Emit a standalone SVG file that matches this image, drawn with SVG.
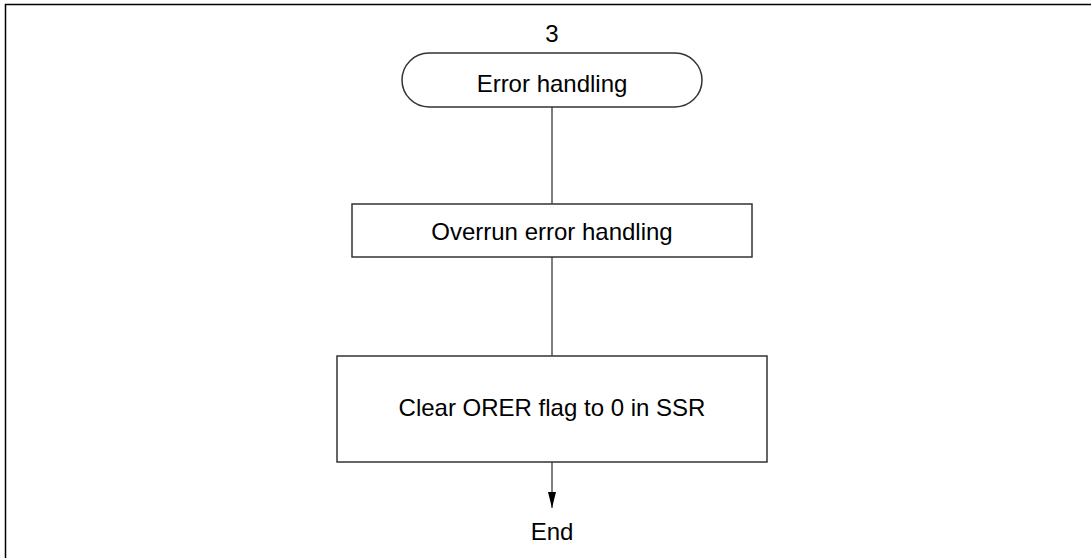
<svg xmlns="http://www.w3.org/2000/svg" width="1091" height="558" viewBox="0 0 1091 558">
<defs>
<style>
.t{font-family:"Liberation Sans",Arial,sans-serif;font-size:24px;fill:#000;text-anchor:middle}
.box{fill:#fff;stroke:#333;stroke-width:1.5}
.ln{stroke:#555;stroke-width:1.5;fill:none}
</style>
<marker id="ah" viewBox="0 0 16 8" refX="16" refY="4" markerWidth="16" markerHeight="8" markerUnits="userSpaceOnUse" orient="auto">
<path d="M0,0 L16,4 L0,8 z" fill="#000"/>
</marker>
</defs>
<rect width="1091" height="558" fill="#fff"/>
<rect x="5.5" y="4.5" width="1100" height="570" fill="none" stroke="#000" stroke-width="1.5"/>
<g id="connectors">
<line class="ln" x1="552" y1="107" x2="552" y2="204"/>
<line class="ln" x1="552" y1="257" x2="552" y2="356"/>
<line class="ln" x1="552" y1="462" x2="552" y2="508" marker-end="url(#ah)"/>
</g>
<g id="label3"><text class="t" x="552" y="42">3</text></g>
<g id="start">
<rect class="box" x="402" y="53" width="300" height="54" rx="27" ry="27" stroke="#000"/>
<text class="t" x="552" y="92">Error handling</text>
</g>
<g id="overrun">
<rect class="box" x="352" y="204" width="400" height="53"/>
<text class="t" x="552" y="240">Overrun error handling</text>
</g>
<g id="clear">
<rect class="box" x="337" y="356" width="430" height="106"/>
<text class="t" x="552" y="416">Clear ORER flag to 0 in SSR</text>
</g>
<g id="end"><text class="t" x="552" y="540">End</text></g>
</svg>
